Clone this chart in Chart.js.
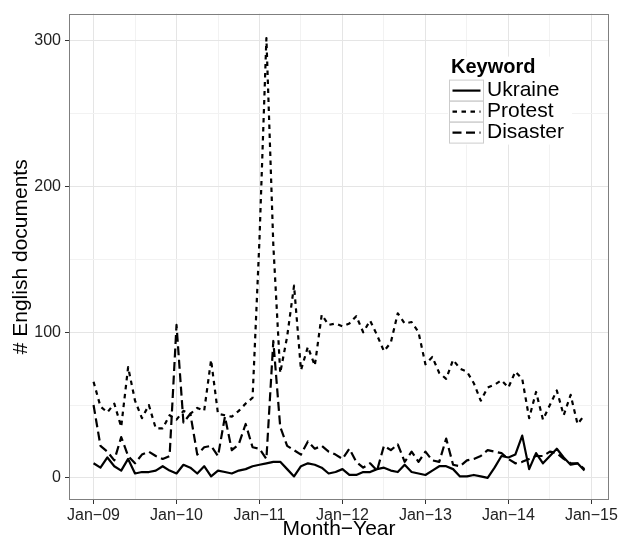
<!DOCTYPE html>
<html>
<head>
<meta charset="utf-8">
<title>English documents per month</title>
<script src="https://cdn.jsdelivr.net/npm/chart.js@4/dist/chart.umd.min.js"></script>
<style>
  html, body { margin: 0; padding: 0; background: #ffffff; }
  #wrap { width: 621px; height: 542px; }
</style>
</head>
<body>
<div id="wrap"><canvas id="c" width="621" height="542"></canvas></div>
<script>
// Monthly document counts, Jan 2009 .. Dec 2014 (index 0 = Jan 2009)
const yearLabels = ['Jan\u221209', 'Jan\u221210', 'Jan\u221211', 'Jan\u221212', 'Jan\u221213', 'Jan\u221214', 'Jan\u221215'];
const keywords = ['Ukraine', 'Protest', 'Disaster'];

const ukraine = [10, 7, 14, 8, 5, 13, 3, 4, 4, 5,
                 8, 5, 3, 9, 7, 3, 8, 1, 5, 4,
                 3, 5, 6, 8, 9, 10, 11, 11, 6, 1,
                 8, 10, 9, 7, 3, 4, 6, 2, 2, 4,
                 4, 6, 7, 5, 4, 9, 4, 3, 2, 5,
                 8, 8, 6, 1, 1, 2, 1, 0, 7, 15,
                 14, 16, 29, 6, 17, 10, 15, 20, 14, 9,
                 10, 5];

const protest = [66, 49, 45, 51, 35, 76, 53, 41, 50, 34,
                 34, 43, 40, 46, 44, 48, 46, 81, 44, 43,
                 42, 46, 51, 55, 164, 302, 160, 72, 97, 132,
                 74, 90, 77, 112, 105, 106, 104, 106, 111, 100,
                 108, 98, 87, 93, 113, 106, 107, 100, 78, 83,
                 72, 68, 81, 75, 73, 65, 53, 62, 64, 67,
                 62, 73, 68, 41, 59, 40, 50, 60, 43, 57,
                 37, 43];

const disaster = [50, 22, 18, 12, 28, 15, 10, 16, 18, 15,
                  13, 15, 105, 38, 44, 16, 21, 22, 15, 42,
                  19, 23, 37, 21, 20, 13, 94, 35, 22, 19,
                  16, 25, 20, 22, 18, 16, 13, 20, 11, 7,
                  10, 5, 22, 19, 23, 11, 18, 11, 18, 12,
                  11, 27, 9, 8, 12, 13, 15, 19, 18, 17,
                  13, 10, 11, 13, 15, 15, 18, 17, 13, 10,
                  10, 6];

const FONT = '"Liberation Sans", Arial, Helvetica, sans-serif';

const toPoints = arr => arr.map((v, i) => ({ x: i, y: v }));

const lineStyle = {
  borderColor: '#000000',
  borderWidth: 2.2,
  pointRadius: 0,
  pointHoverRadius: 0,
  tension: 0,
  fill: false,
  borderCapStyle: 'butt',
  borderJoinStyle: 'round'
};

// panel frame drawn over the plotting region
const panelFrame = {
  id: 'panelFrame',
  afterDatasetsDraw(chart) {
    const { ctx, chartArea: a } = chart;
    ctx.save();
    ctx.strokeStyle = '#7f7f7f';
    ctx.lineWidth = 1;
    ctx.strokeRect(Math.round(a.left) + 0.5, Math.round(a.top) + 0.5,
                   Math.round(a.right - a.left) - 1, Math.round(a.bottom - a.top) - 1);
    ctx.restore();
  }
};

// keyword legend inside the panel, top right
const keywordLegend = {
  id: 'keywordLegend',
  afterDraw(chart) {
    const { ctx, chartArea: a } = chart;
    const x0 = a.right - 160;
    const y0 = a.top + 43;
    ctx.save();
    ctx.fillStyle = '#ffffff';
    ctx.fillRect(x0 - 1, y0, 124, 88);

    ctx.fillStyle = '#000000';
    ctx.textBaseline = 'middle';
    ctx.textAlign = 'left';
    ctx.font = 'bold 20px ' + FONT;
    ctx.fillText('Keyword', x0 + 2, y0 + 11);

    const rowH = 21;
    chart.data.datasets.forEach((ds, k) => {
      const ry = y0 + 23.5 + k * rowH;
      ctx.setLineDash([]);
      ctx.strokeStyle = '#cccccc';
      ctx.lineWidth = 1;
      ctx.strokeRect(x0 + 0.5, ry, 34, rowH);

      ctx.strokeStyle = '#000000';
      ctx.lineWidth = ds.borderWidth;
      ctx.lineCap = 'butt';
      ctx.setLineDash(ds.borderDash || []);
      ctx.beginPath();
      ctx.moveTo(x0 + 3.5, ry + rowH / 2);
      ctx.lineTo(x0 + 31.5, ry + rowH / 2);
      ctx.stroke();

      ctx.setLineDash([]);
      ctx.fillStyle = '#000000';
      ctx.font = '21px ' + FONT;
      ctx.fillText(ds.label, x0 + 38, ry + rowH / 2);
    });
    ctx.restore();
  }
};

const majorX = v => v % 12 === 0;
const majorY = v => v % 100 === 0;

new Chart(document.getElementById('c'), {
  type: 'line',
  data: {
    datasets: [
      Object.assign({ label: keywords[0], data: toPoints(ukraine), borderDash: [] }, lineStyle),
      Object.assign({ label: keywords[1], data: toPoints(protest), borderDash: [4.5, 4.5] }, lineStyle),
      Object.assign({ label: keywords[2], data: toPoints(disaster), borderDash: [9, 4.5] }, lineStyle)
    ]
  },
  options: {
    responsive: false,
    devicePixelRatio: 1,
    animation: false,
    events: [],
    layout: { padding: { top: 11, right: 12, left: 0, bottom: 0 } },
    plugins: {
      legend: { display: false },
      tooltip: { enabled: false }
    },
    scales: {
      x: {
        type: 'linear',
        min: -3.55,
        max: 74.55,
        afterBuildTicks: s => {
          const t = [];
          for (let v = 0; v <= 72; v += 6) t.push({ value: v });
          s.ticks = t;
        },
        afterFit: s => { s.height = 42; },
        border: { display: false },
        grid: {
          color: c => (c.tick && majorX(c.tick.value)) ? '#e5e5e5' : '#f2f2f2',
          lineWidth: 1,
          drawTicks: true,
          tickLength: 4,
          tickWidth: 1,
          tickColor: c => (c.tick && majorX(c.tick.value)) ? '#333333' : 'rgba(0,0,0,0)'
        },
        ticks: {
          autoSkip: false,
          maxRotation: 0,
          minRotation: 0,
          padding: 2,
          color: '#222222',
          font: { family: FONT, size: 16 },
          callback: v => majorX(v) ? yearLabels[v / 12] : ''
        },
        title: {
          display: true,
          text: 'Month\u2212Year',
          color: '#000000',
          font: { family: FONT, size: 21, lineHeight: 1 },
          padding: { top: 0, bottom: 2 }
        }
      },
      y: {
        type: 'linear',
        min: -15.2,
        max: 318.8,
        afterBuildTicks: s => {
          const t = [];
          for (let v = 0; v <= 300; v += 50) t.push({ value: v });
          s.ticks = t;
        },
        afterFit: s => { s.width = 69; },
        border: { display: false },
        grid: {
          color: c => (c.tick && majorY(c.tick.value)) ? '#e5e5e5' : '#f2f2f2',
          lineWidth: 1,
          drawTicks: true,
          tickLength: 4,
          tickWidth: 1,
          tickColor: c => (c.tick && majorY(c.tick.value)) ? '#333333' : 'rgba(0,0,0,0)'
        },
        ticks: {
          autoSkip: false,
          padding: 4,
          color: '#222222',
          font: { family: FONT, size: 16 },
          callback: v => majorY(v) ? String(v) : ''
        },
        title: {
          display: true,
          text: '# English documents',
          color: '#000000',
          font: { family: FONT, size: 21, lineHeight: 1 },
          padding: { top: 11, bottom: 0 }
        }
      }
    }
  },
  plugins: [panelFrame, keywordLegend]
});
</script>
</body>
</html>
